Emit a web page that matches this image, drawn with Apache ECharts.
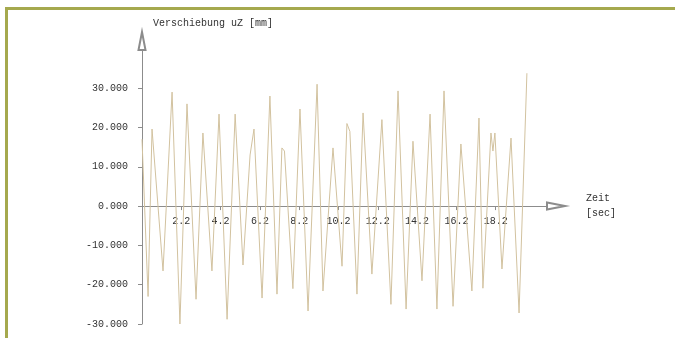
<!DOCTYPE html>
<html>
<head>
<meta charset="utf-8">
<script src="https://cdn.jsdelivr.net/npm/echarts@6/dist/echarts.min.js"></script>
<style>
  html, body { margin: 0; padding: 0; background: #fff; }
  #frame { position: absolute; left: 5px; top: 7px; width: 700px; height: 400px;
           border-top: 3px solid #a5a94e; border-left: 3px solid #a5a94e; }
  #chart { position: absolute; left: 0; top: 0; width: 675px; height: 338px; }
</style>
</head>
<body>
<div id="chart"></div>
<div id="frame"></div>
<script>
// time [sec] of each sampled point
const times = [0.20, 0.51, 0.71, 1.27, 1.73, 2.13, 2.49, 2.95, 3.30, 3.76,
  4.12, 4.53, 4.94, 5.34, 5.70, 5.90, 6.31, 6.71, 7.07, 7.32, 7.45, 7.88,
  8.24, 8.65, 9.11, 9.41, 9.92, 10.38, 10.63, 10.78, 11.14, 11.45, 11.90,
  12.41, 12.87, 13.23, 13.64, 13.99, 14.45, 14.86, 15.21, 15.57, 16.03,
  16.43, 16.99, 17.35, 17.55, 17.96, 18.06, 18.16, 18.52, 18.98, 19.39, 19.79];
// displacement uZ [mm]
const uz = [17.0, -23.0, 19.6, -16.5, 29.0, -30.0, 26.0, -23.7, 18.6, -16.5,
  23.4, -28.8, 23.4, -15.0, 13.0, 19.6, -23.4, 28.0, -22.4, 14.8, 14.0, -21.0,
  24.7, -26.7, 31.0, -21.6, 14.8, -15.3, 21.0, 19.0, -22.4, 23.7, -17.3,
  22.0, -25.0, 29.3, -26.2, 16.5, -19.0, 23.4, -26.2, 29.3, -25.5,
  15.8, -21.6, 22.4, -20.9, 18.6, 14.0, 18.6, -16.0, 17.3, -27.2, 33.8];
const xTicks = [2.2, 4.2, 6.2, 8.2, 10.2, 12.2, 14.2, 16.2, 18.2];
const yTicks = [-30, -20, -10, 0, 10, 20, 30];
const yMin = -30, yMax = 42;

const mono = 'Liberation Mono';
const axisColor = '#8c8c8c';
const textColor = '#333';

const gridTop = 41, gridBottom = 14, H = 338;
const gridH = H - gridTop - gridBottom;
// shift the x axis (line, ticks, labels) up to y = 0
const xOffset = -((0 - yMin) / (yMax - yMin)) * gridH;

const chart = echarts.init(document.getElementById('chart'));
chart.setOption({
  animation: false,
  title: {
    text: 'Verschiebung uZ [mm]',
    left: 153, top: 17, padding: 0,
    textStyle: { fontFamily: mono, fontSize: 10, fontWeight: 'normal', color: textColor, lineHeight: 12 }
  },
  grid: { left: 142, right: 119, top: gridTop, bottom: gridBottom, outerBoundsMode: 'none', containLabel: false },
  xAxis: {
    type: 'value',
    min: 0.2, max: 21.27,
    position: 'bottom',
    offset: xOffset,
    name: 'Zeit\n[sec]',
    nameLocation: 'end',
    nameGap: 30,
    nameTextStyle: { fontFamily: mono, fontSize: 10, color: textColor, lineHeight: 15, align: 'left', padding: [10, 0, 0, 0] },
    splitLine: { show: false },
    axisLine: { onZero: false, lineStyle: { color: axisColor, width: 1 }, symbol: ['none', 'emptyTriangle'], symbolSize: [7, 18] },
    axisTick: { show: true, length: 4, customValues: xTicks, lineStyle: { color: axisColor } },
    axisLabel: { customValues: xTicks, margin: 10, fontFamily: mono, fontSize: 10, color: textColor,
      formatter: v => v.toFixed(1) }
  },
  yAxis: {
    type: 'value',
    min: yMin, max: yMax,
    splitLine: { show: false },
    axisLine: { show: true, lineStyle: { color: axisColor, width: 1 }, symbol: ['none', 'emptyTriangle'], symbolSize: [7, 18] },
    axisTick: { show: true, length: 4, customValues: yTicks, lineStyle: { color: axisColor } },
    axisLabel: { customValues: yTicks, margin: 14, fontFamily: mono, fontSize: 10, color: textColor,
      formatter: v => v.toFixed(3) }
  },
  series: [{
    type: 'line',
    data: times.map((t, i) => [t, uz[i]]),
    showSymbol: false,
    symbol: 'none',
    lineStyle: { color: '#d2c29f', width: 1 }
  }]
});
</script>
</body>
</html>
